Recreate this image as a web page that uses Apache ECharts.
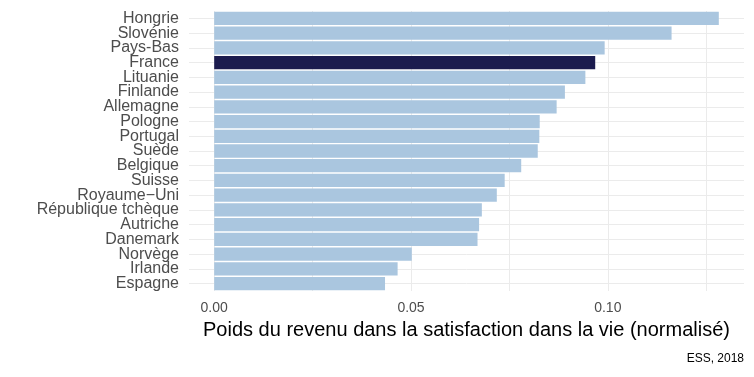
<!DOCTYPE html>
<html>
<head>
<meta charset="utf-8">
<script src="https://cdn.jsdelivr.net/npm/echarts@6/dist/echarts.min.js"></script>
<style>
  html, body { margin: 0; padding: 0; background: #fff; }
  #chart { width: 754px; height: 377px; }
</style>
</head>
<body>
<div id="chart"></div>
<script>
// countries, top to bottom
var countries = ['Hongrie', 'Slovénie', 'Pays-Bas', 'France', 'Lituanie', 'Finlande', 'Allemagne',
  'Pologne', 'Portugal', 'Suède', 'Belgique', 'Suisse', 'Royaume\u2212Uni', 'République tchèque',
  'Autriche', 'Danemark', 'Norvège', 'Irlande', 'Espagne']
var weights = [0.1282, 0.1162, 0.0992, 0.0968, 0.0943, 0.0891, 0.0870,
  0.0827, 0.0826, 0.0822, 0.0780, 0.0738, 0.0718, 0.0680,
  0.0673, 0.0669, 0.0502, 0.0466, 0.0434]
var highlighted = 'France'
var gridValues = [0, 0.025, 0.05, 0.075, 0.1, 0.125]
var tickLabels = [0, 0.05, 0.1]

var chart = echarts.init(document.getElementById('chart'))
var font = 'Liberation Sans, Arial, sans-serif'

var option = {
  backgroundColor: '#fff',
  animation: false,
  title: {
    text: 'ESS, 2018',
    right: 5,
    top: 348,
    textStyle: {
      color: '#000',
      fontSize: 12,
      fontWeight: 'normal',
      fontFamily: font
    }
  },
  grid: {
    left: 189,
    right: 10,
    top: 11,
    bottom: 86
  },
  xAxis: {
    type: 'value',
    min: -0.0064,
    max: 0.1346,
    name: 'Poids du revenu dans la satisfaction dans la vie (normalisé)',
    nameLocation: 'middle',
    nameGap: 29,
    nameTextStyle: {
      color: '#000',
      fontSize: 20,
      fontFamily: font
    },
    axisLine: { show: false },
    axisTick: { show: false, customValues: gridValues },
    axisLabel: {
      customValues: tickLabels,
      margin: 10,
      color: '#4D4D4D',
      fontSize: 14,
      fontFamily: font,
      formatter: function (v) {
        return v.toFixed(2)
      }
    },
    splitLine: {
      show: true,
      lineStyle: { color: '#EBEBEB', width: 1 }
    }
  },
  yAxis: {
    type: 'category',
    inverse: true,
    data: countries,
    axisLine: { show: false },
    axisTick: { show: false },
    axisLabel: {
      interval: 0,
      margin: 10,
      color: '#4D4D4D',
      fontSize: 16,
      fontFamily: font
    },
    splitLine: {
      show: true,
      interval: 0,
      alignWithLabel: true,
      lineStyle: { color: '#EBEBEB', width: 1 }
    }
  },
  series: [
    {
      type: 'bar',
      barCategoryGap: '10%',
      data: weights.map(function (v, i) {
        return {
          value: v,
          itemStyle: {
            color: countries[i] === highlighted ? '#1B1B4E' : '#AAC6DF'
          }
        }
      })
    }
  ]
}
chart.setOption(option)
</script>
</body>
</html>
